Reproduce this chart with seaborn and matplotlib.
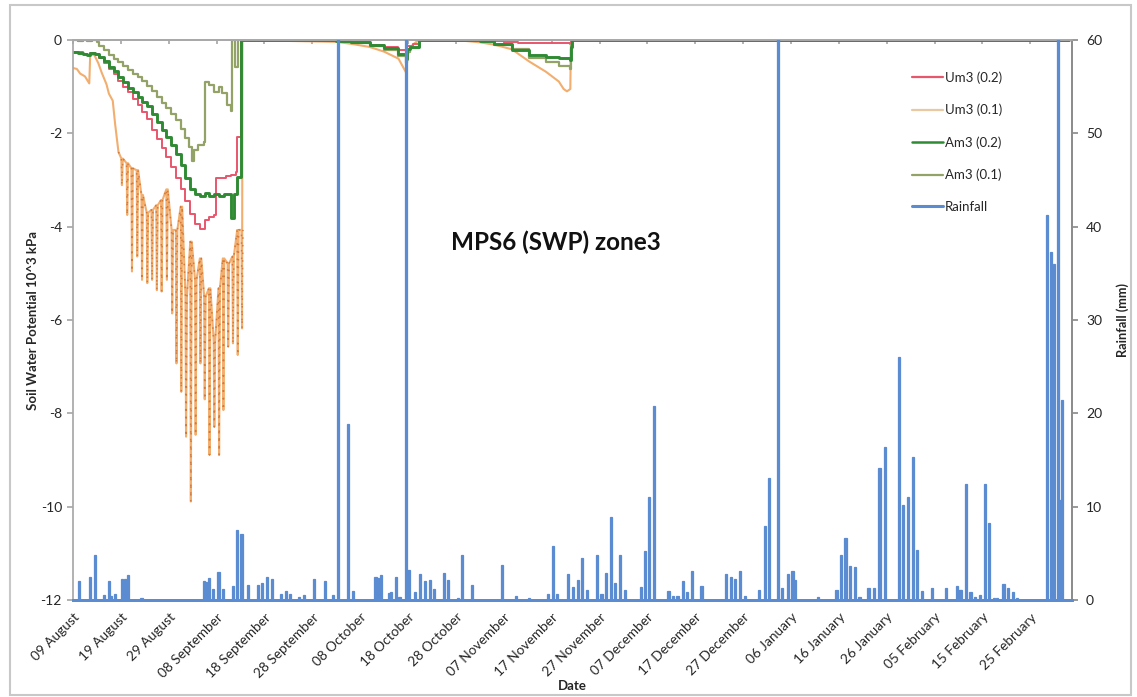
import numpy as np
import pandas as pd
import matplotlib
matplotlib.use("Agg")
import matplotlib.pyplot as plt
import seaborn as sns
from matplotlib.lines import Line2D
from matplotlib.patches import Rectangle

# ---------------- data ----------------
START = pd.Timestamp("2013-08-09")
X_END = "2014-03-05 17:00"

tick_dates = ["2013-08-09", "2013-08-19", "2013-08-29", "2013-09-08", "2013-09-18",
              "2013-09-28", "2013-10-08", "2013-10-18", "2013-10-28", "2013-11-07",
              "2013-11-17", "2013-11-27", "2013-12-07", "2013-12-17", "2013-12-27",
              "2014-01-06", "2014-01-16", "2014-01-26", "2014-02-05", "2014-02-15",
              "2014-02-25"]
tick_labels = ["09 August", "19 August", "29 August", "08 September", "18 September",
               "28 September", "08 October", "18 October", "28 October", "07 November",
               "17 November", "27 November", "07 December", "17 December", "27 December",
               "06 January", "16 January", "26 January", "05 February", "15 February",
               "25 February"]
left_ticks = [0, -2, -4, -6, -8, -10, -12]
right_ticks = [0, 10, 20, 30, 40, 50, 60]

# Um3 (0.2)  (days after 09 Aug, SWP 10^3 kPa)
um02_day = [0, 1, 2, 3, 3.6, 4.5, 5.5, 6.5, 7.5, 8.5, 9.5, 10.5, 11.5, 12.5, 13.5, 14.5,
            15.5, 16.5, 17.5, 18.5, 19.5, 20.5, 21.5, 22.5, 23.5, 24.5, 25.5, 26.5, 27.5,
            28.5, 29.5, 29.9, 31, 32, 33, 34, 34.3, 35.1, 40, 50, 58, 62, 65, 68, 69.6,
            69.8, 71, 72.2, 80, 85, 90, 93, 103.9, 104.1, 208]
um02_swp = [-0.25, -0.26, -0.3, -0.33, -0.28, -0.3, -0.38, -0.5, -0.62, -0.73, -0.88, -1.0,
            -1.12, -1.26, -1.4, -1.55, -1.7, -1.92, -2.12, -2.32, -2.5, -2.72, -2.95, -3.2,
            -3.45, -3.72, -3.95, -4.05, -3.85, -3.8, -3.75, -2.96, -2.95, -2.92, -2.9, -2.82,
            -2.07, 0, -0.01, -0.03, -0.05, -0.1, -0.15, -0.22, -0.3, -0.12, -0.08, 0, -0.01,
            -0.02, -0.05, -0.07, -0.09, 0, 0]

# Um3 (0.1): smooth early part
um01_day = [0, 0.8, 1.5, 2.5, 3.4, 3.6, 4.5, 5.3, 6.0, 7.0, 7.5, 8.3, 8.8, 9.5]
um01_swp = [-0.6, -0.62, -0.72, -0.78, -0.93, -0.3, -0.33, -0.5, -0.7, -0.95, -1.15, -1.3,
            -1.8, -2.4]
# Um3 (0.1): daily swings (top and bottom of each daily excursion)
um01_osc_day = [10.1, 11.2, 12.2, 13.3, 14.3, 15.4, 16.4, 17.4, 18.4, 19.5, 20.6, 21.5,
                22.5, 23.5, 24.5, 25.5, 26.5, 27.4, 28.4, 29.4, 30.4, 31.3, 32.3, 33.3,
                34.3, 35.2]
um01_osc_top = [-2.54, -2.64, -2.75, -2.79, -3.32, -3.7, -3.64, -3.54, -3.43, -3.2, -4.07,
                -4.07, -3.57, -5.5, -4.32, -5.14, -4.68, -5.5, -5.32, -6.46, -5.32, -4.68,
                -4.79, -4.64, -4.07, -4.07]
um01_osc_bot = [-3.11, -3.75, -4.96, -4.64, -5.14, -5.21, -5.14, -5.36, -5.39, -5.14, -5.86,
                -6.93, -7.54, -8.5, -9.89, -8.46, -6.93, -7.7, -8.89, -8.29, -8.89, -7.93,
                -6.57, -6.5, -6.75, -6.18]
# Um3 (0.1): later part
um01_late_day = [35.4, 45, 55, 58, 62, 65, 68, 69.6, 69.8, 70.2, 71, 72.2, 82, 85, 88, 91.7,
                 95.3, 98.8, 101.5, 102.5, 103.2, 103.9, 104.0, 104.3, 208]
um01_late_swp = [0, -0.02, -0.04, -0.08, -0.15, -0.25, -0.4, -0.7, -0.45, -0.2, -0.1, 0,
                 -0.02, -0.05, -0.1, -0.2, -0.46, -0.68, -0.89, -1.05, -1.1, -1.05, -0.2, 0, 0]

# Am3 (0.2)
am02_day = [0, 1, 2, 3, 3.6, 4.5, 5.5, 6.5, 7.5, 8.5, 9.5, 10.5, 11.5, 12.5, 13.5, 14.5,
            15.5, 16.5, 17.5, 18.5, 19.5, 20.5, 21.5, 22.5, 23.5, 24.5, 25.5, 26.5, 27.5,
            28.5, 29.5, 30.5, 31.5, 32.5, 33.1, 33.6, 34.3, 35.1, 45, 55, 58, 62, 65, 68,
            69.6, 69.8, 70.5, 72.2, 82, 85, 88, 91.8, 95.3, 98.8, 101.5, 103.9, 104.0, 104.3,
            208]
am02_swp = [-0.25, -0.27, -0.3, -0.32, -0.28, -0.3, -0.36, -0.46, -0.57, -0.67, -0.8, -0.9,
            -1.02, -1.12, -1.22, -1.32, -1.42, -1.58, -1.75, -1.92, -2.08, -2.25, -2.45,
            -2.68, -2.95, -3.2, -3.3, -3.35, -3.28, -3.35, -3.3, -3.35, -3.3, -3.3, -3.82,
            -3.3, -2.93, 0, -0.01, -0.03, -0.05, -0.1, -0.18, -0.3, -0.4, -0.2, -0.15, 0,
            -0.01, -0.03, -0.08, -0.21, -0.32, -0.37, -0.39, -0.42, -0.15, 0, 0]

# Am3 (0.1)
am01_day = [0, 1, 2, 3, 4, 5, 5.5, 6.5, 7.5, 8.5, 9.5, 10.5, 11.5, 12.5, 13.5, 14.5, 15.5,
            16.5, 17.5, 18.5, 19.5, 20.5, 21.5, 22.5, 23.5, 24.2, 24.8, 25.3, 26.2, 27.3,
            27.5, 28.5, 29.5, 30.5, 31.2, 32.2, 33.0, 33.2, 33.9, 34.5, 45, 55, 58, 62, 65,
            68, 69.6, 69.8, 70.5, 72.2, 82, 85, 88, 91.8, 95.3, 98.8, 101.5, 103.9, 104.0,
            104.3, 208]
am01_swp = [0, -0.02, 0, -0.03, 0, -0.05, -0.12, -0.22, -0.32, -0.4, -0.48, -0.56, -0.64,
            -0.72, -0.8, -0.88, -0.98, -1.1, -1.22, -1.35, -1.46, -1.58, -1.72, -1.9, -2.1,
            -2.3, -2.6, -2.35, -2.25, -2.18, -0.89, -0.96, -1.11, -1.0, -1.14, -1.39, -1.53,
            0, -0.57, 0, -0.01, -0.03, -0.06, -0.12, -0.22, -0.35, -0.5, -0.25, -0.18, 0,
            -0.01, -0.03, -0.1, -0.2, -0.39, -0.48, -0.55, -0.62, -0.1, 0, 0]

# Rainfall (mm)
rain_day = [1.3, 3.6, 4.6, 6.5, 7.5, 8.0, 8.8, 10.3, 10.8, 11.5, 14.3, 27.4, 27.8, 28.4,
            29.3, 30.4, 31.3, 33.4, 34.3, 35.2, 36.6, 38.6, 39.4, 40.5, 41.5, 43.5, 44.5,
            45.4, 47.3, 48.3, 50.3, 52.6, 54.3, 55.3, 57.4, 58.5, 63.2, 63.7, 64.3, 66.0,
            66.5, 67.4, 68.2, 69.6, 70.1, 71.5, 72.5, 73.5, 74.5, 75.4, 77.5, 78.4, 80.4,
            81.3, 83.3, 89.6, 92.5, 95.3, 99.3, 100.2, 101.1, 103.5, 104.5, 105.5, 106.4,
            107.3, 109.4, 110.4, 111.3, 112.4, 113.3, 114.3, 115.3, 118.6, 119.5, 120.4,
            121.4, 124.4, 125.3, 126.3, 127.4, 128.3, 129.3, 131.3, 136.4, 137.4, 138.3,
            139.4, 140.4, 143.4, 144.5, 145.4, 147.3, 148.2, 149.3, 150.3, 150.8, 155.6,
            159.5, 160.4, 161.4, 162.3, 163.3, 164.3, 166.2, 167.3, 168.5, 169.6, 172.5,
            173.4, 174.5, 175.5, 176.4, 177.4, 179.4, 182.3, 184.6, 185.2, 185.6, 186.6,
            187.5, 188.5, 189.5, 190.5, 191.4, 192.5, 193.0, 194.4, 195.3, 196.3, 197.3,
            203.5, 204.4, 205.0, 205.7, 206.2, 206.7]
rain_mm = [2.0, 2.5, 4.8, 0.5, 2.0, 0.4, 0.6, 2.2, 2.2, 2.7, 0.2, 2.0, 1.9, 2.4,
           1.2, 3.0, 1.2, 1.5, 7.5, 7.1, 1.6, 1.6, 1.8, 2.5, 2.2, 0.6, 1.0,
           0.6, 0.3, 0.5, 2.2, 2.0, 0.5, 80, 18.9, 1.0, 2.5, 2.4, 2.7, 0.7,
           0.9, 2.5, 0.3, 70, 3.2, 0.9, 2.8, 2.0, 2.1, 1.2, 2.9, 2.1, 0.25,
           4.8, 1.6, 3.8, 0.4, 0.25, 0.6, 5.8, 0.6, 2.8, 1.4, 2.1, 4.5,
           1.1, 4.8, 0.6, 2.9, 8.9, 1.8, 4.8, 1.1, 1.4, 5.3, 11.0,
           20.8, 1.0, 0.4, 0.4, 2.0, 0.9, 3.1, 1.5, 2.8, 2.5, 2.3,
           3.1, 0.4, 1.1, 7.9, 13.1, 75, 1.25, 2.8, 3.1, 2.1, 0.35,
           1.1, 4.8, 6.6, 3.6, 3.5, 0.3, 1.25, 1.3, 14.1, 16.4, 26.0,
           10.2, 11.0, 15.3, 5.4, 1.0, 1.25, 1.25, 1.5, 1.1, 1.1, 12.4,
           0.9, 0.3, 0.5, 12.4, 8.3, 0.2, 0.2, 1.7, 1.3, 0.9, 0.2,
           41.2, 37.3, 36.0, 80, 10.7, 21.4]

series_names = ["Um3 (0.2)", "Um3 (0.1)", "Am3 (0.2)", "Am3 (0.1)", "Rainfall"]

# ---------------- styling ----------------
C_UM02 = "#E8566C"
C_UM01 = "#F2AE6E"
C_UM01_DOT = "#D27A3A"
C_AM02 = "#2F8A34"
C_AM01 = "#93A266"
C_RAIN = "#5B8BD0"
AX_GREY = "#A8A8A8"

sns.set_theme(style="white")
plt.rcParams["font.family"] = ["Lato", "DejaVu Sans"]
plt.rcParams["axes.unicode_minus"] = False


def to_dates(days):
    return START + pd.to_timedelta(np.asarray(days, dtype=float), unit="D")


# Build the Um3 (0.1) path from its read values
osc_d, osc_v = [], []
for d, t, b in zip(um01_osc_day, um01_osc_top, um01_osc_bot):
    osc_d += [d, d + 0.12, d + 0.3]
    osc_v += [t, b, t]
um01_all_day = um01_day + osc_d[:-1] + um01_late_day
um01_all_swp = um01_swp + osc_v[:-1] + um01_late_swp

fig = plt.figure(figsize=(11.37, 6.97), dpi=100)
ax = fig.add_axes([73 / 1137, 1 - 600 / 697, (1072 - 73) / 1137, (600 - 40) / 697])
ax2 = ax.twinx()


def draw(days, vals, color, lw, steps=True, **kw):
    df = pd.DataFrame({"date": to_dates(days), "swp": vals})
    extra = {"drawstyle": "steps-post"} if steps else {}
    sns.lineplot(data=df, x="date", y="swp", ax=ax, color=color, linewidth=lw,
                 estimator=None, sort=False, legend=False, **extra, **kw)


draw(um01_all_day, um01_all_swp, C_UM01, 1.5, steps=False)
# dotted overlay to mimic the data-point markers along the swings
draw(um01_day[-1:] + osc_d, [um01_swp[-1]] + osc_v, C_UM01_DOT, 1.1, steps=False,
     linestyle=(0, (1, 4)))
draw(um02_day, um02_swp, C_UM02, 1.4)
draw(am01_day, am01_swp, C_AM01, 1.6)
draw(am02_day, am02_swp, C_AM02, 2.1)

# rainfall on right axis
ax2.bar(to_dates(rain_day), rain_mm, width=0.45, color=C_RAIN, edgecolor=C_RAIN,
        linewidth=0.9, align="center", zorder=3)

# axes limits
ax.set_xlim(START, pd.Timestamp(X_END))
ax.set_ylim(-12, 0)
ax2.set_ylim(0, 60)

# ticks
ax.set_xticks(pd.to_datetime(tick_dates))
ax.set_xticklabels(tick_labels, rotation=45, ha="right", rotation_mode="anchor",
                   fontsize=9.8, color="#262626")
ax.tick_params(axis="x", top=True, bottom=False, labeltop=False, labelbottom=True,
               direction="in", length=3, color=AX_GREY, pad=8)
ax.set_yticks(left_ticks)
ax.set_yticklabels([str(v) for v in left_ticks], fontsize=10, color="#262626")
ax.tick_params(axis="y", left=True, direction="out", length=4, color=AX_GREY, pad=4)
ax2.set_yticks(right_ticks)
ax2.set_yticklabels([str(v) for v in right_ticks], fontsize=10, color="#262626")
ax2.tick_params(axis="y", right=True, direction="out", length=4, color="#8C8C8C", pad=6)

# spines
for a in (ax, ax2):
    a.spines["left"].set_color(AX_GREY)
    a.spines["top"].set_color(AX_GREY)
    a.spines["right"].set_color("#8C8C8C")
    a.spines["bottom"].set_color(C_RAIN)
    a.spines["bottom"].set_linewidth(2)
ax2.spines["left"].set_visible(False)

# labels
ax.set_xlabel("Date", fontsize=9.5, fontweight="bold", labelpad=0)
ax.set_ylabel("Soil Water Potential 10^3 kPa", fontsize=9.5, fontweight="bold", labelpad=1)
ax2.set_ylabel("Rainfall (mm)", fontsize=9.2, fontweight="bold", labelpad=10)

fig.text(556 / 1137, 1 - 242 / 697, "MPS6 (SWP) zone3", fontsize=17.5, fontweight="bold",
         ha="center", va="center", color="#111111")

# legend
handles = [Line2D([0], [0], color=C_UM02, lw=1.6),
           Line2D([0], [0], color="#E9C9A4", lw=1.6),
           Line2D([0], [0], color=C_AM02, lw=1.8),
           Line2D([0], [0], color=C_AM01, lw=1.6),
           Line2D([0], [0], color=C_RAIN, lw=2.2)]
fig.legend(handles, series_names, loc="upper left",
           bbox_to_anchor=(901 / 1137, 1 - 61 / 697), frameon=False, fontsize=9.5,
           handlelength=2.4, handletextpad=0.1, labelspacing=1.5, borderpad=0.3)

# outer chart frame
fig.patches.append(Rectangle((10 / 1137, 2 / 697), 1121 / 1137, 690 / 697,
                             transform=fig.transFigure, fill=False,
                             edgecolor="#C8C8C8", linewidth=1.5, zorder=-1))

fig.savefig("out.png", dpi=100)
